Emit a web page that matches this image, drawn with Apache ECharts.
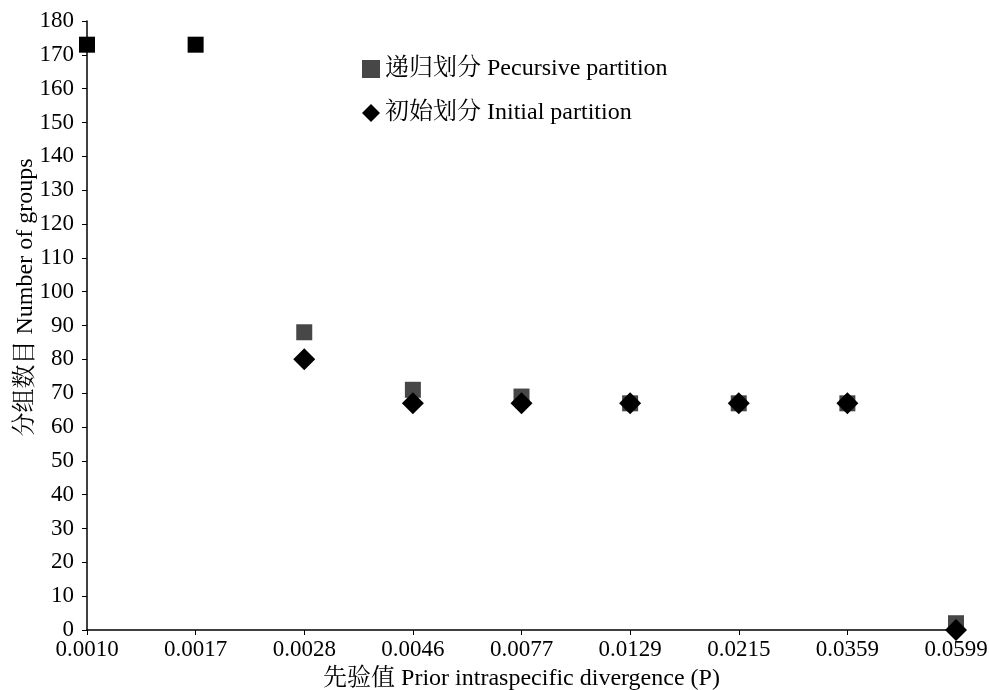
<!DOCTYPE html>
<html>
<head>
<meta charset="utf-8">
<script src="https://cdn.jsdelivr.net/npm/echarts@6/dist/echarts.min.js"></script>
<style>html,body{margin:0;padding:0;background:#fff}#c{width:989px;height:690px}</style>
</head>
<body>
<div id="c"></div>
<script>
var categories = ['0.0010','0.0017','0.0028','0.0046','0.0077','0.0129','0.0215','0.0359','0.0599'];
var recursiveValues = [173,173,88,71,69,67,67,67,2];
var initialValues = [null,null,80,67,67,67,67,67,0];
var yTicks = {min:0, max:180, interval:10};
var recursiveName = '递归划分 Pecursive partition';
var initialName = '初始划分 Initial partition';
var xTitle = '先验值 Prior intraspecific divergence (P)';
var yTitle = '分组数目 Number of groups';

var font = '"Liberation Serif", "Times New Roman", "Noto Serif CJK SC", "Noto Sans CJK SC", serif';
var chart = echarts.init(document.getElementById('c'), null, {renderer:'canvas'});
chart.setOption({
  animation:false,
  backgroundColor:'#fff',
  textStyle:{fontFamily:font},
  grid:{left:87, right:33, top:21, bottom:60, containLabel:false, outerBoundsMode:'none'},
  legend:{
    orient:'vertical', left:357, top:52, itemGap:20, itemWidth:18, itemHeight:18,
    textStyle:{fontFamily:font, fontSize:24, color:'#000'},
    data:[
      {name:recursiveName, icon:'rect', itemStyle:{color:'#474747', opacity:1}},
      {name:initialName, icon:'diamond', itemStyle:{color:'#000', opacity:1}}
    ]
  },
  xAxis:{
    type:'category', data:categories, boundaryGap:false,
    name:xTitle, nameLocation:'middle', nameGap:37, nameMoveOverlap:false,
    nameTextStyle:{fontFamily:font, fontSize:24, color:'#000'},
    axisLine:{lineStyle:{color:'#000', width:1.5}},
    axisTick:{show:true, length:5, lineStyle:{color:'#000'}},
    axisLabel:{fontFamily:font, fontSize:23, color:'#000', margin:8, showMinLabel:true, showMaxLabel:true, interval:0},
    splitLine:{show:false}
  },
  yAxis:{
    type:'value', min:yTicks.min, max:yTicks.max, interval:yTicks.interval,
    name:yTitle, nameLocation:'middle', nameGap:49, nameRotate:90, nameMoveOverlap:false,
    nameTextStyle:{fontFamily:font, fontSize:24, color:'#000', padding:[0,0,0,56]},
    axisLine:{show:true, lineStyle:{color:'#000', width:1.5}},
    axisTick:{show:true, length:5, lineStyle:{color:'#000'}},
    axisLabel:{fontFamily:font, fontSize:23, color:'#000', margin:13},
    splitLine:{show:false}
  },
  series:[
    {
      name:recursiveName, type:'scatter', symbol:'rect', symbolSize:16,
      data:recursiveValues,
      itemStyle:{opacity:1, color:function(p){return p.dataIndex < 2 ? '#000' : '#474747';}},
      z:2
    },
    {
      name:initialName, type:'scatter', symbol:'diamond', symbolSize:22,
      data:initialValues,
      itemStyle:{color:'#000', opacity:1},
      z:3
    }
  ]
});
</script>
</body>
</html>
